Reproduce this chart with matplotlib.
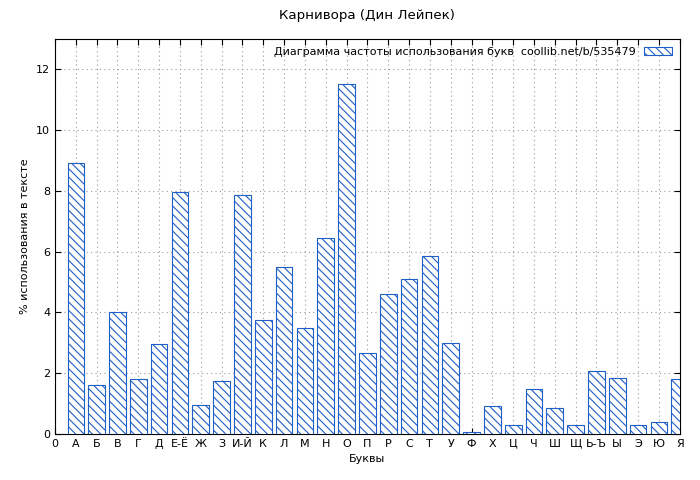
import matplotlib.pyplot as plt

letters = ['А', 'Б', 'В', 'Г', 'Д', 'Е-Ё', 'Ж', 'З', 'И-Й', 'К', 'Л', 'М', 'Н', 'О', 'П',
           'Р', 'С', 'Т', 'У', 'Ф', 'Х', 'Ц', 'Ч', 'Ш', 'Щ', 'Ь-Ъ', 'Ы', 'Э', 'Ю', 'Я']
percent = [8.9, 1.6, 4.0, 1.8, 2.95, 7.95, 0.95, 1.75, 7.85, 3.75, 5.5, 3.5, 6.45, 11.5, 2.65,
           4.6, 5.1, 5.85, 3.0, 0.07, 0.92, 0.3, 1.48, 0.85, 0.3, 2.07, 1.83, 0.3, 0.4, 1.8]

plt.rcParams['font.size'] = 8
plt.rcParams['hatch.color'] = '#1f5fc8'
plt.rcParams['hatch.linewidth'] = 0.8

fig = plt.figure(figsize=(7, 4.8), dpi=100)
ax = fig.add_axes([0.0786, 0.096, 0.8925, 0.823])

pos = list(range(1, len(letters) + 1))
ax.bar(pos, percent, width=0.8, facecolor='white', edgecolor='#1f5fc8', hatch='\\\\\\\\',
       linewidth=0.8, label='Диаграмма частоты использования букв  coollib.net/b/535479', zorder=3)

ax.set_xlim(0, len(letters))
ax.set_ylim(0, 13)
ax.set_xticks([0] + pos)
ax.set_xticklabels(['0'] + letters)
ax.set_yticks(range(0, 13, 2))
ax.grid(True, linestyle=(0, (1, 3)), color='#999999', linewidth=0.8, zorder=0)
ax.tick_params(direction='in', length=4, top=True, right=True)
ax.set_xlabel('Буквы')
ax.set_ylabel('% использования в тексте')
ax.set_title('Карнивора (Дин Лейпек)', pad=14)
leg = ax.legend(loc='upper right', frameon=False, markerfirst=False, handlelength=2.5,
                borderaxespad=0.3)

fig.savefig('out.png')
